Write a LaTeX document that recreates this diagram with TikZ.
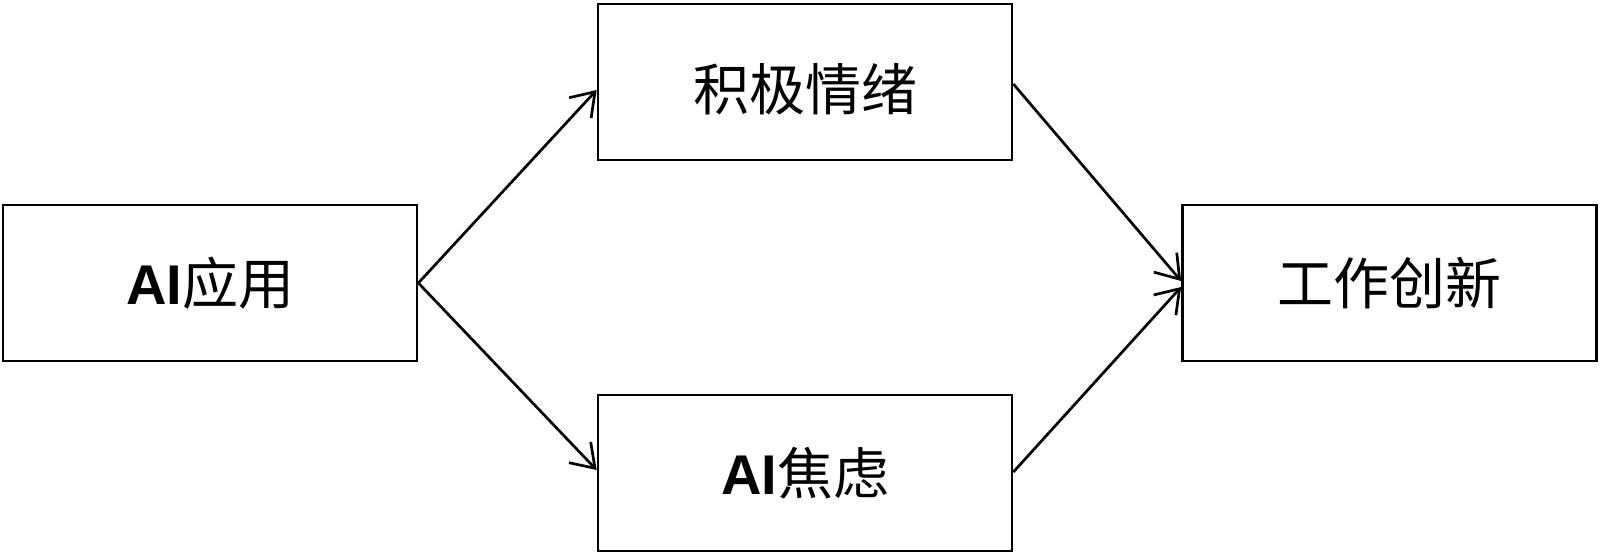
\documentclass[tikz,border=0pt]{standalone}
\usepackage{fontspec}
\newfontfamily\cjk{Noto Sans CJK SC}
\newfontfamily\latinb{Liberation Sans}
\usetikzlibrary{arrows.meta}
\begin{document}
\begin{tikzpicture}[x=1pt,y=-1pt,
  box/.style={draw=black, line width=2.7pt, minimum width=414pt, minimum height=156pt, inner sep=0pt, font=\fontsize{56}{60}\selectfont\cjk},
  conn/.style={line width=2.7pt, -{Straight Barb[length=22pt,width=30pt,line width=2.7pt]}}]
\useasboundingbox (0,0) rectangle (1600,557);
\node[box] (app) at (210,283) {{\latinb\bfseries AI}应用};
\node[box, text height=60pt, text depth=4pt] (pos) at (805,82) {积极情绪};
\node[box] (anx) at (805,473) {{\latinb\bfseries AI}焦虑};
\node[box] (inn) at (1389.5,283) {工作创新};
\coordinate (appR) at (app.east);
\coordinate (posL) at ([yshift=-8pt]pos.west);
\coordinate (anxL) at ([yshift=3pt]anx.west);
\coordinate (posR) at ([yshift=-2pt]pos.east);
\coordinate (anxR) at ([yshift=1pt]anx.east);
\coordinate (innA) at ([yshift=2pt]inn.west);
\coordinate (innB) at ([yshift=-4pt]inn.west);
\draw[conn] (appR) -- (posL);
\draw[conn] (appR) -- (anxL);
\draw[conn] (posR) -- (innA);
\draw[conn] (anxR) -- (innB);
\end{tikzpicture}
\end{document}
